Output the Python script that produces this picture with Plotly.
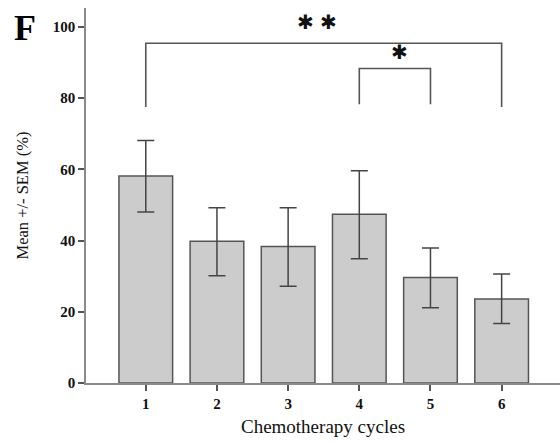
import plotly.graph_objects as go

cycles = [1, 2, 3, 4, 5, 6]
tick_labels = ["1", "2", "3", "4", "5", "6"]
means = [58.1, 39.8, 38.3, 47.4, 29.6, 23.6]
sem_up = [10.0, 9.4, 10.9, 12.2, 8.3, 7.0]
sem_down = [10.1, 9.7, 11.1, 12.5, 8.5, 6.9]

# significance brackets: (start cycle, end cycle, bracket height, leg bottom, label)
br_start = [1, 4]
br_end = [6, 5]
br_top = [95.4, 88.3]
br_leg = [77.5, 78.3]
br_label = ["✱ ✱", "✱"]
br_label_x = [3.41, 4.56]
br_label_y = [101.4, 92.9]

serif = "Liberation Serif, Times New Roman, serif"
axis_col = "#8a8a8a"

fig = go.Figure()
fig.add_trace(go.Bar(
    x=cycles, y=means, width=0.754,
    marker=dict(color="#cccccc", line=dict(color="#555555", width=1.5)),
    error_y=dict(type="data", symmetric=False, array=sem_up, arrayminus=sem_down,
                 color="#444444", thickness=1.5, width=8.5),
))

for s, e, t, l, lab, lx, ly in zip(br_start, br_end, br_top, br_leg, br_label, br_label_x, br_label_y):
    fig.add_shape(type="path",
                  path=f"M {s},{l} L {s},{t} L {e},{t} L {e},{l}",
                  xref="x", yref="y", line=dict(color="#555555", width=1.6))
    fig.add_annotation(x=lx, y=ly, xref="x", yref="y", text=lab,
                       showarrow=False, font=dict(family="DejaVu Sans", size=20, color="#111111"),
                       yanchor="middle", xanchor="center")

fig.add_annotation(x=-0.129, y=0.947, xref="paper", yref="paper", text="<b>F</b>",
                   showarrow=False, xanchor="center", yanchor="middle",
                   font=dict(family=serif, size=36, color="#000"))

fig.add_annotation(text="Mean +/- SEM (%)", textangle=-90, xref="paper", yref="paper",
                   x=-0.135, y=0.5, showarrow=False, xanchor="center", yanchor="middle",
                   font=dict(family=serif, size=16.5, color="#111"))

fig.update_layout(
    width=560, height=445,
    margin=dict(l=86, r=0, t=8, b=62, autoexpand=False),
    plot_bgcolor="white", paper_bgcolor="white",
    showlegend=False,
    xaxis=dict(range=[0.16, 6.82], tickvals=cycles, ticktext=tick_labels,
               automargin=False,
               showline=True, linecolor=axis_col, linewidth=1.5,
               ticks="outside", ticklen=6, tickcolor="#555", tickwidth=1.5,
               showgrid=False, zeroline=False,
               tickfont=dict(family=serif, size=15, color="#111", weight="bold"),
               title=dict(text="Chemotherapy cycles", standoff=9,
                          font=dict(family=serif, size=19, color="#111"))),
    yaxis=dict(range=[0, 105.3], tickvals=[0, 20, 40, 60, 80, 100],
               automargin=False,
               showline=True, linecolor=axis_col, linewidth=1.5,
               ticks="outside", ticklen=6, tickcolor="#555", tickwidth=1.5,
               showgrid=False, zeroline=False,
               tickfont=dict(family=serif, size=15, color="#111", weight="bold")),
)

fig.write_html("out.html", config={"displayModeBar": False},
               post_script="document.body.style.margin='0';document.body.style.overflow='hidden';")
